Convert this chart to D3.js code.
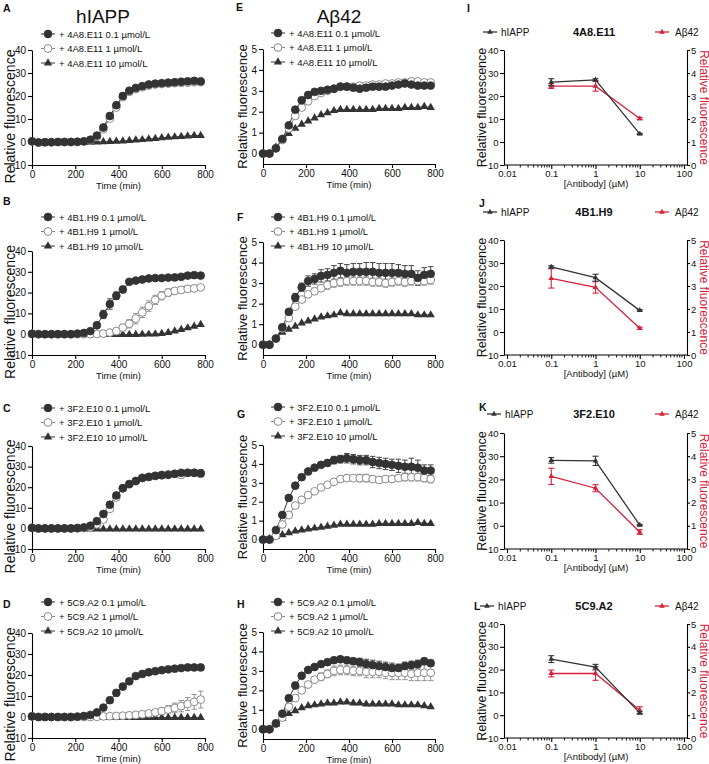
<!DOCTYPE html>
<html><head><meta charset="utf-8">
<script src="https://cdn.jsdelivr.net/npm/d3@7"></script>
<style>body{margin:0;background:#fff}svg{display:block}</style>
</head><body><svg id="c" width="709" height="764"></svg>
<script>
// ---------------- DATA ----------------
const times = [0,30,60,90,120,150,180,210,240,270,300,330,360,390,420,450,480,510,540,570,600,630,660,690,720,750,780];
const timeTicks = [0,200,400,600,800];
const hTicks = [-10,0,10,20,30,40];
const aTicks = [0,1,2,3,4,5];
const doseTicks = [0.01,0.1,1,10,100];
const doses = [0.1,1,10];
const antibodies = ["4A8.E11","4B1.H9","3F2.E10","5C9.A2"];
const concLabels = ["0.1 µmol/L","1 µmol/L","10 µmol/L"];

// hIAPP time courses
const A_low  = [0.3,-0.2,-0.1,-0.1,0,0,0,0.1,0.3,1.0,2.8,6.3,11.3,16.0,20.0,22.3,23.5,24.3,25.0,25.4,25.6,25.8,26.0,26.2,26.4,26.6,26.4];
const A_lowErr = [0,0,0,0,0,0,0,0,0,0,0,0.8,1.2,1.0,0.8,0.5,0.5,0.5,0.5,0.5,0.5,0.5,0.5,0.5,0.6,0.6,0.6];
const A_mid  = [0.3,-0.2,-0.1,-0.1,0,0,0,0,0.2,0.7,2.2,5.5,10.2,15.0,19.5,21.8,23.0,23.8,24.5,25.0,25.2,25.4,25.6,25.7,25.8,26.0,26.0];
const A_high = [0.2,-0.3,-0.3,-0.3,-0.3,-0.3,-0.3,-0.2,-0.2,-0.1,0,0.1,0.2,0.3,0.4,0.6,0.8,1.0,1.3,1.5,1.8,2.0,2.2,2.4,2.6,2.8,2.8];

const B_low  = [0.2,0,0,0,0,0,0,0.3,0.6,1.5,4.3,9.5,14.5,18.5,21.5,25.2,25.8,26.3,26.8,27.0,27.0,27.2,27.3,27.6,28.2,28.4,28.2];
const B_lowErr = [0,0,0,0,0,0,0,0,0,0.8,1.2,2.0,2.5,1.8,1.5,0.8,0.5,0.5,0.5,0.5,0.5,0.5,0.5,0.5,0.8,0.8,0.8];
const B_mid  = [0.2,0,0,0,0,0,0,0,0,0,0.1,0.3,0.8,1.5,3.2,5.0,7.5,10.5,13.5,16.5,18.5,20.0,20.8,21.3,21.8,22.0,22.5];
const B_midErr = [0,0,0,0,0,0,0,0,0,0,0,0,0.5,1.0,1.5,2.0,2.5,2.5,2.5,2.2,2.0,1.8,1.5,1.5,1.5,1.5,1.2];
const B_high = [0.2,-0.2,-0.2,-0.2,-0.2,-0.2,-0.2,-0.2,-0.2,-0.2,-0.2,-0.2,-0.2,-0.2,-0.2,-0.2,-0.2,-0.1,0,0.1,0.3,0.8,1.5,2.2,3.0,3.8,4.6];

const C_low  = [0.3,0,0,0,0,0,0,0.2,0.5,1.3,3.5,7.0,11.5,16.0,19.5,21.5,23.0,24.5,25.0,25.5,25.8,26.0,26.5,27.0,27.0,27.0,26.8];
const C_lowErr = [0,0,0,0,0,0,0,0,0,0,0,0.8,1.5,1.2,1.0,0.8,0.6,0.6,0.6,0.6,0.6,0.6,0.6,0.8,0.8,0.8,0.8];
const C_mid  = [0.3,0,0,0,0,0,0,0,0.2,0.6,2.0,4.3,9.5,15.0,19.5,21.5,23.0,24.5,25.0,25.5,26.0,26.3,26.5,26.0,27.0,27.0,26.5];
const C_midErr = [0,0,0,0,0,0,0,0,0,0,0,0,0,0,0,0,0,0,1.0,1.0,1.2,1.2,1.5,1.5,1.5,1.5,1.8];
const C_high = [0,-0.3,-0.3,-0.3,-0.3,-0.3,-0.3,-0.3,-0.3,-0.3,-0.3,-0.3,-0.3,-0.3,-0.3,-0.3,-0.3,-0.3,-0.3,-0.3,-0.3,-0.3,-0.3,-0.3,-0.3,-0.3,-0.3];

const D_low  = [0.3,0,0,0,0,0,0,0.2,0.5,1.0,2.2,4.5,8.0,11.5,14.5,17.0,19.5,20.5,21.3,21.8,22.3,22.7,23.0,23.3,23.6,23.6,23.6];
const D_lowErr = [0,0,0,0,0,0,0,0,0,0,0,0.8,1.2,1.5,1.5,1.2,1.0,0.8,0.6,0.5,0.5,0.5,0.5,0.5,0.5,0.5,0.5];
const D_mid  = [0.3,0,0,0,0,0,0,0,0,0,0.1,0.3,0.4,0.5,0.6,0.8,1.0,1.3,1.7,2.2,2.8,3.5,4.3,5.2,6.2,7.2,8.3];
const D_midErr = [0,0,0,0,0,0,0,0,0,0,0,0,0,0,0.3,0.4,0.5,0.7,0.9,1.2,1.5,1.9,2.3,2.7,3.1,3.5,4.0];
const D_high = [0,-0.3,-0.3,-0.3,-0.3,-0.3,-0.3,-0.3,-0.3,-0.3,-0.3,-0.3,-0.3,-0.3,-0.3,-0.3,-0.3,-0.3,-0.3,-0.3,-0.3,-0.3,-0.3,-0.3,-0.3,-0.3,-0.3];

// Abeta42 time courses
const E_low  = [0,0,0.25,0.7,1.35,2.1,2.55,2.8,2.95,3.0,3.05,3.1,3.2,3.2,3.15,3.1,3.15,3.2,3.2,3.2,3.25,3.3,3.35,3.3,3.25,3.25,3.25];
const E_lowErr = [0,0,0,0,0,0,0,0,0,0,0.05,0.08,0.08,0.08,0.08,0.08,0.08,0.1,0.1,0.1,0.1,0.1,0.12,0.12,0.12,0.12,0.12];
const E_mid  = [0,0,0.25,0.65,1.2,1.8,2.2,2.5,2.75,2.9,3.0,3.1,3.2,3.2,3.2,3.25,3.25,3.3,3.3,3.35,3.35,3.4,3.4,3.45,3.45,3.4,3.4];
const E_midErr = [0,0,0,0,0,0,0,0,0,0,0.05,0.08,0.08,0.08,0.08,0.08,0.08,0.1,0.1,0.1,0.1,0.1,0.1,0.12,0.12,0.12,0.12];
const E_high = [0,0,0.3,0.65,0.95,1.2,1.4,1.55,1.7,1.85,1.95,2.05,2.1,2.1,2.1,2.1,2.1,2.1,2.15,2.15,2.15,2.15,2.2,2.2,2.2,2.25,2.2];

const F_low  = [0,0,0.3,0.85,1.6,2.3,2.8,3.1,3.2,3.35,3.4,3.5,3.6,3.5,3.55,3.55,3.55,3.55,3.5,3.5,3.5,3.5,3.45,3.45,3.25,3.4,3.45];
const F_lowErr = [0,0,0,0,0.1,0.2,0.2,0.25,0.25,0.3,0.3,0.35,0.35,0.4,0.4,0.4,0.45,0.45,0.45,0.45,0.45,0.4,0.4,0.4,0.35,0.35,0.35];
const F_mid  = [0,0,0.3,0.8,1.3,1.85,2.2,2.45,2.6,2.75,2.9,3.0,3.05,3.1,3.1,3.1,3.1,3.05,3.05,3.0,3.05,3.1,3.05,3.1,3.1,3.1,3.15];
const F_midErr = [0,0,0,0,0.1,0.15,0.15,0.15,0.15,0.15,0.2,0.2,0.2,0.2,0.2,0.2,0.2,0.2,0.2,0.2,0.2,0.2,0.2,0.2,0.2,0.2,0.2];
const F_high = [0,0,0.3,0.6,0.75,0.9,1.05,1.15,1.25,1.35,1.4,1.45,1.55,1.5,1.5,1.5,1.5,1.5,1.5,1.5,1.5,1.5,1.5,1.5,1.45,1.45,1.45];

const G_low  = [0,0,0.5,1.3,2.2,2.85,3.3,3.6,3.8,3.95,4.05,4.2,4.25,4.3,4.25,4.2,4.2,4.1,4.05,4.0,3.95,3.9,3.85,3.85,3.8,3.65,3.65];
const G_lowErr = [0,0,0,0.05,0.1,0.1,0.1,0.1,0.1,0.1,0.15,0.2,0.2,0.25,0.25,0.25,0.25,0.3,0.3,0.3,0.3,0.35,0.35,0.45,0.4,0.3,0.3];
const G_mid  = [0,0,0.2,0.8,1.3,1.8,2.1,2.35,2.55,2.75,2.9,3.05,3.2,3.25,3.25,3.25,3.25,3.2,3.15,3.2,3.2,3.25,3.3,3.3,3.3,3.25,3.2];
const G_midErr = [0,0,0,0,0.05,0.05,0.05,0.05,0.05,0.1,0.1,0.1,0.15,0.15,0.15,0.2,0.2,0.15,0.15,0.15,0.15,0.15,0.2,0.2,0.2,0.2,0.2];
const G_high = [0,0.05,0.15,0.25,0.35,0.45,0.5,0.55,0.6,0.65,0.7,0.75,0.8,0.8,0.8,0.8,0.8,0.8,0.85,0.85,0.85,0.85,0.85,0.85,0.9,0.85,0.85];

const H_low  = [0,0,0.3,0.8,1.6,2.25,2.75,3.05,3.2,3.35,3.45,3.55,3.6,3.55,3.5,3.45,3.35,3.3,3.25,3.2,3.15,3.15,3.25,3.3,3.35,3.5,3.4];
const H_lowErr = [0,0,0,0,0.05,0.1,0.1,0.1,0.1,0.1,0.1,0.1,0.1,0.1,0.15,0.2,0.25,0.25,0.25,0.25,0.25,0.2,0.2,0.2,0.2,0.15,0.15];
const H_mid  = [0,0,0.3,0.6,1.15,1.6,2.0,2.3,2.55,2.7,2.85,3.0,3.05,3.05,3.0,3.0,2.95,2.95,2.95,2.9,2.9,2.9,2.9,2.85,2.9,2.9,2.9];
const H_midErr = [0,0,0,0,0.05,0.1,0.1,0.15,0.15,0.2,0.2,0.25,0.25,0.25,0.25,0.25,0.3,0.3,0.3,0.3,0.35,0.35,0.35,0.35,0.4,0.4,0.4];
const H_high = [0,0,0.25,0.55,0.8,0.95,1.1,1.2,1.25,1.3,1.35,1.35,1.4,1.4,1.35,1.35,1.3,1.3,1.3,1.3,1.3,1.25,1.25,1.25,1.25,1.2,1.15];

// dose-response (end-point) values
const I_hiapp = [26.0,27.0,3.5];  const I_hiappErr = [1.5,0.5,0.3];
const I_ab    = [3.43,3.43,2.02]; const I_abErr    = [0.1,0.22,0.05];
const J_hiapp = [28.3,23.6,9.4];  const J_hiappErr = [0.5,1.5,0.3];
const J_ab    = [3.33,2.94,1.16]; const J_abErr    = [0.42,0.25,0.05];
const K_hiapp = [28.2,28.0,0.3];  const K_hiappErr = [1.2,2.0,0.3];
const K_ab    = [3.13,2.62,0.73]; const K_abErr    = [0.35,0.15,0.1];
const L_hiapp = [24.6,21.1,1.0];  const L_hiappErr = [1.5,1.2,0.5];
const L_ab    = [2.83,2.83,1.22]; const L_abErr    = [0.15,0.3,0.15];

// ---------------- DRAWING ----------------
const FONT = '"Liberation Sans", Arial, Helvetica, sans-serif';
const DARK = '#333333', GREY = '#8a8a8a', RED = '#d6213b';
const svg = d3.select('#c');
const intFmt = d3.format('d');

function styleAxis(g, fs){
  g.select('path.domain').attr('stroke','#000').attr('stroke-width',1.1);
  g.selectAll('.tick line').attr('stroke','#000').attr('stroke-width',1.1);
  g.selectAll('.tick text').attr('font-family',FONT).attr('font-size',fs||10).attr('fill','#111');
}
function txt(x,y,s,o){
  o=o||{};
  const t = svg.append('text').attr('x',x).attr('y',y).text(s)
    .attr('font-family',FONT).attr('font-size',o.fs||10).attr('fill',o.fill||'#111')
    .attr('text-anchor',o.anchor||'start').attr('font-weight',o.bold?'bold':'normal');
  if(o.rot!==undefined) t.attr('transform',`rotate(${o.rot},${x},${y})`);
  return t;
}
function marker(g, type, cx, cy, color, size){
  if(type==='fill') g.append('circle').attr('cx',cx).attr('cy',cy).attr('r',3.9).attr('fill',color).attr('stroke',color).attr('stroke-width',0.8);
  else if(type==='open') g.append('circle').attr('cx',cx).attr('cy',cy).attr('r',3.9).attr('fill','#fff').attr('stroke',color).attr('stroke-width',1);
  else g.append('path').attr('d',d3.symbol(d3.symbolTriangle, size||30)()).attr('transform',`translate(${cx},${cy})`).attr('fill',color);
}

const tcPanels = [
 {letter:'A',lp:[3,12], ab:0, kind:'h', low:A_low,lowE:A_lowErr,mid:A_mid,midE:null,high:A_high, x0:32,x1:205,top:50,bot:165,legY:34,legX:48,lfs:14,lx:15,loff:9},
 {letter:'B',lp:[3,205],ab:1, kind:'h', low:B_low,lowE:B_lowErr,mid:B_mid,midE:B_midErr,high:B_high, x0:32,x1:205,top:251,bot:355,legY:217,legX:48,lfs:14,lx:15,loff:9},
 {letter:'C',lp:[3,412],ab:2, kind:'h', low:C_low,lowE:C_lowErr,mid:C_mid,midE:C_midErr,high:C_high, x0:32,x1:205,top:446,bot:549,legY:408,legX:48,lfs:14,lx:15,loff:9},
 {letter:'D',lp:[3,608],ab:3, kind:'h', low:D_low,lowE:D_lowErr,mid:D_mid,midE:D_midErr,high:D_high, x0:32,x1:205,top:633,bot:738,legY:602,legX:48,lfs:14,lx:15,loff:9},
 {letter:'E',lp:[236,11],ab:0, kind:'a', low:E_low,lowE:E_lowErr,mid:E_mid,midE:E_midErr,high:E_high, x0:263,x1:435,top:49,bot:164,legY:33,legX:278,lfs:13,lx:247,loff:0},
 {letter:'F',lp:[237,221],ab:1,kind:'a', low:F_low,lowE:F_lowErr,mid:F_mid,midE:F_midErr,high:F_high, x0:263,x1:435,top:242,bot:355,legY:217,legX:278,lfs:13,lx:247,loff:0},
 {letter:'G',lp:[237,418],ab:2,kind:'a', low:G_low,lowE:G_lowErr,mid:G_mid,midE:G_midErr,high:G_high, x0:263,x1:435,top:445,bot:549,legY:407,legX:278,lfs:13,lx:247,loff:0},
 {letter:'H',lp:[237,608],ab:3,kind:'a', low:H_low,lowE:H_lowErr,mid:H_mid,midE:H_midErr,high:H_high, x0:263,x1:435,top:632,bot:739,legY:602,legX:278,lfs:13,lx:247,loff:0}
];

function timePanel(p){
  const x = d3.scaleLinear().domain([0,800]).range([p.x0,p.x1]);
  const y = d3.scaleLinear().domain(p.kind==='h'?[-10,40]:[-0.5,5]).range([p.bot,p.top]);
  const g = svg.append('g');
  styleAxis(g.append('g').attr('transform',`translate(0,${p.bot})`)
    .call(d3.axisBottom(x).tickValues(timeTicks).tickFormat(intFmt).tickSize(4).tickSizeOuter(0).tickPadding(2)));
  styleAxis(g.append('g').attr('transform',`translate(${p.x0},0)`)
    .call(d3.axisLeft(y).tickValues(p.kind==='h'?hTicks:aTicks).tickFormat(d=>d<0?'\u2212'+Math.abs(d):String(d)).tickSize(4).tickSizeOuter(0).tickPadding(2)));
  const series = [
    {v:p.high,e:null,type:'tri',c:DARK},
    {v:p.mid,e:p.midE,type:'open',c:GREY},
    {v:p.low,e:p.lowE,type:'fill',c:DARK}];
  const line = d3.line().x((d,i)=>x(times[i])).y(d=>y(d));
  series.forEach(s=>{
    g.append('path').datum(s.v).attr('d',line).attr('fill','none').attr('stroke',s.c).attr('stroke-width',1);
    if(s.e){
      s.v.forEach((v,i)=>{
        const e=s.e[i]; if(!e) return;
        const cx=x(times[i]);
        g.append('line').attr('x1',cx).attr('x2',cx).attr('y1',y(v-e)).attr('y2',y(v+e)).attr('stroke',s.c).attr('stroke-width',0.9);
        [v-e,v+e].forEach(w=>g.append('line').attr('x1',cx-2.8).attr('x2',cx+2.8).attr('y1',y(w)).attr('y2',y(w)).attr('stroke',s.c).attr('stroke-width',0.9));
      });
    }
  });
  series.forEach(s=>{ s.v.forEach((v,i)=>marker(g,s.type,x(times[i]),y(v),s.c)); });
  // legend
  const leg = [{type:'fill',c:DARK},{type:'open',c:GREY},{type:'tri',c:DARK}];
  leg.forEach((L,j)=>{
    const ly = p.legY + j*14.5;
    g.append('line').attr('x1',p.legX-7).attr('x2',p.legX+7).attr('y1',ly).attr('y2',ly).attr('stroke',L.c).attr('stroke-width',1);
    marker(g,L.type,p.legX,ly,L.c);
    txt(p.legX+11, ly+3.5, `+ ${antibodies[p.ab]} ${concLabels[j]}`, {fs:9.5});
  });
  txt((p.x0+p.x1)/2, p.bot+23.5, 'Time (min)', {fs:9.5, anchor:'middle'});
  txt(p.lx, (p.top+p.bot)/2 + p.loff, 'Relative fluorescence', {fs:p.lfs, anchor:'middle', rot:-90});
  txt(p.lp[0], p.lp[1], p.letter, {fs:10.5, bold:true});
}
tcPanels.forEach(timePanel);

txt(103, 23, 'hIAPP', {fs:19, anchor:'middle'});
txt(339, 23, 'Aβ42', {fs:19, anchor:'middle'});

const dPanels = [
 {letter:'I',lp:[467,12],ab:0,h:I_hiapp,hE:I_hiappErr,a:I_ab,aE:I_abErr,top:50,bot:165,legY:32,legX:490},
 {letter:'J',lp:[479,207],ab:1,h:J_hiapp,hE:J_hiappErr,a:J_ab,aE:J_abErr,top:240,bot:355,legY:212,legX:490},
 {letter:'K',lp:[479,411],ab:2,h:K_hiapp,hE:K_hiappErr,a:K_ab,aE:K_abErr,top:433,bot:549,legY:414,legX:494},
 {letter:'L',lp:[474,610],ab:3,h:L_hiapp,hE:L_hiappErr,a:L_ab,aE:L_abErr,top:624,bot:738,legY:606,legX:487}
];
const XL=504, XR=687;
function dosePanel(p){
  const x = d3.scaleLog().domain([0.01,100]).range([507,684]);
  const yL = d3.scaleLinear().domain([-10,40]).range([p.bot,p.top]);
  const yR = d3.scaleLinear().domain([0,5]).range([p.bot,p.top]);
  const g = svg.append('g');
  const xa = g.append('g').attr('transform',`translate(0,${p.bot})`)
    .call(d3.axisBottom(x).tickValues(doseTicks).tickFormat(d=>String(d)).tickSize(4).tickSizeOuter(0).tickPadding(1.5));
  xa.select('path.domain').remove();
  styleAxis(xa, 9.5);
  g.append('line').attr('x1',XL).attr('x2',XR).attr('y1',p.bot).attr('y2',p.bot).attr('stroke','#000').attr('stroke-width',1.1);
  const minors=[];
  [0.01,0.1,1,10].forEach(b=>{for(let m=2;m<=9;m++) minors.push(b*m);});
  minors.forEach(v=>g.append('line').attr('x1',x(v)).attr('x2',x(v)).attr('y1',p.bot).attr('y2',p.bot+2.5).attr('stroke','#000').attr('stroke-width',0.9));
  styleAxis(g.append('g').attr('transform',`translate(${XL},0)`)
    .call(d3.axisLeft(yL).tickValues(hTicks).tickFormat(d=>d<0?'\u2212'+Math.abs(d):String(d)).tickSize(4).tickSizeOuter(0).tickPadding(1.5)), 9.5);
  styleAxis(g.append('g').attr('transform',`translate(${XR},0)`)
    .call(d3.axisRight(yR).tickValues(aTicks).tickFormat(intFmt).tickSize(3).tickSizeOuter(0).tickPadding(1)), 9.5);
  const sets = [{v:p.a,e:p.aE,y:yR,c:RED},{v:p.h,e:p.hE,y:yL,c:DARK}];
  sets.forEach(s=>{
    const line = d3.line().x((d,i)=>x(doses[i])).y(d=>s.y(d));
    g.append('path').datum(s.v).attr('d',line).attr('fill','none').attr('stroke',s.c).attr('stroke-width',1.3);
    s.v.forEach((v,i)=>{
      const cx=x(doses[i]), e=s.e[i];
      g.append('line').attr('x1',cx).attr('x2',cx).attr('y1',s.y(v-e)).attr('y2',s.y(v+e)).attr('stroke',s.c).attr('stroke-width',1.1);
      [v-e,v+e].forEach(w=>g.append('line').attr('x1',cx-3).attr('x2',cx+3).attr('y1',s.y(w)).attr('y2',s.y(w)).attr('stroke',s.c).attr('stroke-width',1.1));
      marker(g,'tri',cx,s.y(v),s.c,14);
    });
  });
  // legend
  g.append('line').attr('x1',p.legX-7).attr('x2',p.legX+7).attr('y1',p.legY).attr('y2',p.legY).attr('stroke',DARK).attr('stroke-width',1.3);
  marker(g,'tri',p.legX,p.legY,DARK,14);
  txt(p.legX+11,p.legY+3.5,'hIAPP',{fs:10});
  txt(594,p.legY+4,antibodies[p.ab],{fs:11,bold:true,anchor:'middle'});
  g.append('line').attr('x1',655).attr('x2',669).attr('y1',p.legY).attr('y2',p.legY).attr('stroke',RED).attr('stroke-width',1.3);
  marker(g,'tri',662,p.legY,RED,14);
  txt(675,p.legY+3.5,'Aβ42',{fs:10});
  txt(596,p.bot+22,'[Antibody] (µM)',{fs:9.5,anchor:'middle'});
  txt(486,(p.top+p.bot)/2,'Relative fluorescence',{fs:12.5,anchor:'middle',rot:-90});
  txt(699.5,(p.top+p.bot)/2,'Relative fluorescence',{fs:12,anchor:'middle',rot:90,fill:RED});
  txt(p.lp[0],p.lp[1],p.letter,{fs:10.5,bold:true});
}
dPanels.forEach(dosePanel);
</script></body></html>
